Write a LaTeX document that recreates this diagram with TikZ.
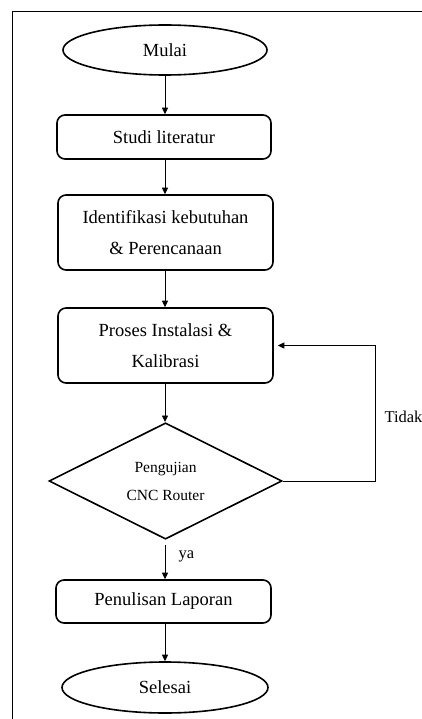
\documentclass[tikz,border=0pt]{standalone}
\usepackage{fontspec}
\setmainfont{Liberation Serif}
\usetikzlibrary{shapes.geometric,arrows.meta}
\begin{document}
\begin{tikzpicture}[x=1pt,y=-1pt,
  box/.style={draw,line width=1.6pt,rounded corners=8pt,inner sep=0pt,align=center,
    font=\fontsize{18.5}{31.5}\selectfont},
  term/.style={draw,ellipse,line width=1.6pt,inner sep=0pt,font=\fontsize{18.5}{22}\selectfont},
  dec/.style={draw,diamond,line width=1.6pt,inner sep=0pt,align=center,
    font=\fontsize{15.5}{28}\selectfont},
  conn/.style={line width=0.9pt,-{Triangle[length=6.5pt,width=6pt]}},
  lbl/.style={font=\fontsize{16.5}{20}\selectfont,anchor=west}]
\useasboundingbox (0,0) rectangle (422,719);
\draw[line width=1.6pt] (12.5,725) -- (12.5,11.5) -- (430,11.5);
\node[term,minimum width=204pt,minimum height=50pt] (start) at (165,50) {Mulai};
\node[box,minimum width=214pt,minimum height=44pt] (studi) at (164,137) {Studi literatur};
\node[box,minimum width=215pt,minimum height=75pt] (ident) at (165.5,232.5) {Identifikasi kebutuhan\\\& Perencanaan};
\node[box,minimum width=215pt,minimum height=75pt] (proses) at (165.5,345.5) {Proses Instalasi \&\\Kalibrasi};
\node[dec,minimum width=233pt,minimum height=116pt] (uji) at (165.5,481) {Pengujian\\CNC Router};
\node[box,minimum width=215pt,minimum height=43pt] (tulis) at (163.5,601.5) {Penulisan Laporan};
\node[term,minimum width=206pt,minimum height=51pt] (end) at (165,687.5) {Selesai};
\coordinate (rt) at (375,481);
\draw[conn] (start.south) -- (start.south |- studi.north);
\draw[conn] (start.south |- studi.south) -- (start.south |- ident.north);
\draw[conn] (start.south |- ident.south) -- (start.south |- proses.north);
\draw[conn] (start.south |- proses.south) -- (start.south |- uji.north);
\draw[conn] (start.south |- uji.south) ++(0,5) -- (start.south |- tulis.north);
\draw[conn] (start.south |- tulis.south) -- (end.north);
\draw[conn,shorten >=4pt] (uji.east) -- (rt) |- (proses.east);
\node[lbl] (tidak) at (381,417) {Tidak};
\node[lbl] (ya) at (175,556) {ya};
\end{tikzpicture}
\end{document}
